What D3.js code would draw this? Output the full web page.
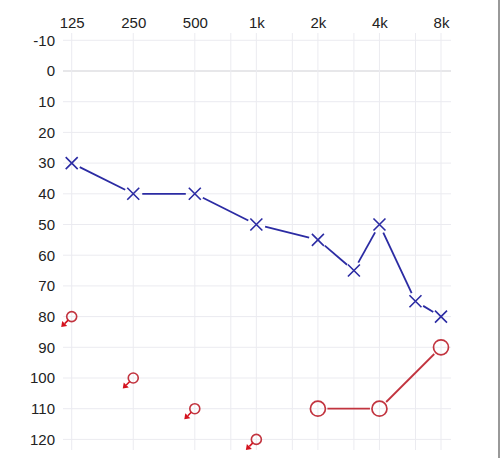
<!DOCTYPE html>
<html>
<head>
<meta charset="utf-8">
<script src="https://cdn.jsdelivr.net/npm/d3@7"></script>
<style>
  body { margin: 0; background: #fff; }
  svg { display: block; font-family: "Open Sans", "Noto Sans", sans-serif; }
</style>
</head>
<body>
<div id="chart"></div>
<script>
const width = 500;
const height = 458;

// frequency ticks (Hz) and their labels
const freqTicks = [125, 250, 500, 1000, 2000, 4000, 8000];
const freqLabels = ['125', '250', '500', '1k', '2k', '4k', '8k'];
const halfOctaves = [750, 1500, 3000, 6000];
const dbTicks = [-10, 0, 10, 20, 30, 40, 50, 60, 70, 80, 90, 100, 110, 120];

// right ear, air conduction (X)
const xFreqs = [125, 250, 500, 1000, 2000, 3000, 4000, 6000, 8000];
const xLevels = [30, 40, 40, 50, 55, 65, 50, 75, 80];

// left ear, responses (O)
const oFreqs = [2000, 4000, 8000];
const oLevels = [110, 110, 90];

// left ear, no response (O with arrow)
const nrFreqs = [125, 250, 500, 1000];
const nrLevels = [80, 100, 110, 120];

const blue = '#2b2ba3';
const red = '#c2343f';
const redArrow = '#d4121e';

const xScale = d3.scaleLog().base(2)
  .domain([125, 8000])
  .range([71.7, 441]);

const yScale = d3.scaleLinear()
  .domain([-10, 120])
  .range([40.3, 439.4]);

const svg = d3.select('#chart')
  .append('svg')
    .attr('width', width)
    .attr('height', height);

// grid
const grid = svg.append('g');
grid.selectAll('.hgrid')
  .data(dbTicks)
  .join('line')
    .attr('x1', 63)
    .attr('x2', 451)
    .attr('y1', d => yScale(d))
    .attr('y2', d => yScale(d))
    .attr('stroke', d => d === 0 ? '#cfcfd4' : '#ebebf0')
    .attr('stroke-width', 1);

grid.selectAll('.vgrid')
  .data(freqTicks.concat(halfOctaves))
  .join('line')
    .attr('x1', d => xScale(d))
    .attr('x2', d => xScale(d))
    .attr('y1', 33)
    .attr('y2', 450)
    .attr('stroke', '#ebebf0')
    .attr('stroke-width', 1);

// axes labels
const xAxis = d3.axisTop(xScale)
  .tickValues(freqTicks)
  .tickFormat((d, i) => freqLabels[i])
  .tickSize(0)
  .tickPadding(0);

svg.append('g')
    .attr('transform', 'translate(0,28)')
    .call(xAxis)
    .call(g => g.select('.domain').remove())
    .selectAll('text')
      .style('font-size', '15px')
      .attr('fill', '#222');

const yAxis = d3.axisLeft(yScale)
  .tickValues(dbTicks)
  .tickFormat(d => String(d))
  .tickSize(0)
  .tickPadding(0);

svg.append('g')
    .attr('transform', 'translate(55,0)')
    .call(yAxis)
    .call(g => g.select('.domain').remove())
    .selectAll('text')
      .style('font-size', '15px')
      .attr('fill', '#222');

// right border line
svg.append('line')
  .attr('x1', 499).attr('x2', 499)
  .attr('y1', 0).attr('y2', height)
  .attr('stroke', '#555')
  .attr('stroke-width', 1.2);

// connecting segments with a gap around markers
const drawSegments = (freqs, levels, gap, color) => {
  const pts = freqs.map((f, i) => [xScale(f), yScale(levels[i])]);
  const segs = d3.pairs(pts).map(([a, b]) => {
    const dx = b[0] - a[0], dy = b[1] - a[1];
    const len = Math.hypot(dx, dy);
    const ux = dx / len, uy = dy / len;
    return [a[0] + ux * gap, a[1] + uy * gap, b[0] - ux * gap, b[1] - uy * gap];
  });
  svg.append('g')
    .selectAll('line')
    .data(segs)
    .join('line')
      .attr('x1', d => d[0]).attr('y1', d => d[1])
      .attr('x2', d => d[2]).attr('y2', d => d[3])
      .attr('stroke', color)
      .attr('stroke-width', 1.8);
};

drawSegments(xFreqs, xLevels, 9, blue);
drawSegments(oFreqs, oLevels, 9.5, red);

// X markers
const xs = 6;
svg.append('g')
  .selectAll('path')
  .data(xFreqs.map((f, i) => [xScale(f), yScale(xLevels[i])]))
  .join('path')
    .attr('d', d => `M${d[0] - xs},${d[1] - xs}L${d[0] + xs},${d[1] + xs}M${d[0] - xs},${d[1] + xs}L${d[0] + xs},${d[1] - xs}`)
    .attr('stroke', blue)
    .attr('stroke-width', 1.6)
    .attr('fill', 'none');

// O markers
svg.append('g')
  .selectAll('circle')
  .data(oFreqs.map((f, i) => [xScale(f), yScale(oLevels[i])]))
  .join('circle')
    .attr('cx', d => d[0])
    .attr('cy', d => d[1])
    .attr('r', 7.5)
    .attr('fill', 'none')
    .attr('stroke', red)
    .attr('stroke-width', 1.7);

// no-response markers: small O with arrow down-left
const nr = svg.append('g')
  .selectAll('g')
  .data(nrFreqs.map((f, i) => [xScale(f), yScale(nrLevels[i])]))
  .join('g')
    .attr('transform', d => `translate(${d[0]},${d[1]})`);

nr.append('circle')
  .attr('r', 5)
  .attr('fill', 'none')
  .attr('stroke', red)
  .attr('stroke-width', 1.6);

nr.append('line')
  .attr('x1', -3.5).attr('y1', 3.5)
  .attr('x2', -7).attr('y2', 7)
  .attr('stroke', redArrow)
  .attr('stroke-width', 1.6);

nr.append('path')
  .attr('d', 'M-10.5,10.5L-9.5,4.5L-4.5,9.5Z')
  .attr('fill', redArrow);
</script>
</body>
</html>
